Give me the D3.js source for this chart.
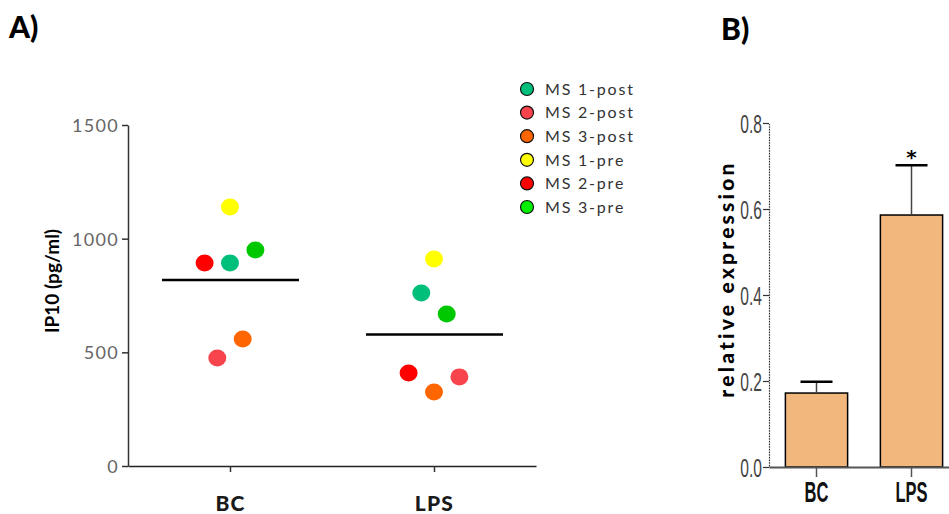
<!DOCTYPE html>
<html>
<head>
<meta charset="utf-8">
<script src="https://cdn.jsdelivr.net/npm/d3@7"></script>
<style>
  html, body { margin: 0; padding: 0; background: #fff; }
  svg { display: block; }
</style>
</head>
<body>
<svg id="chart" width="949" height="514"></svg>
<script>
// ---------- Data ----------
const categories = ["BC", "LPS"];
const seriesNames = ["MS 1-post", "MS 2-post", "MS 3-post", "MS 1-pre", "MS 2-pre", "MS 3-pre"];
const seriesColors = ["#00BF7A", "#F8444C", "#FF6600", "#FFFF00", "#FF0000", "#00C800"];
const legendColors = ["#00BF7A", "#F8444C", "#FF6600", "#FFFF00", "#FF0000", "#00F000"];
const bcValues = [893, 475, 559, 1139, 893, 950];
const lpsValues = [761, 392, 326, 911, 409, 669];
const bcJitter = [0, -1, 1, 0, -2, 2];
const lpsJitter = [-1, 2, 0, 0, -2, 1];
const ipTicks = [0, 500, 1000, 1500];

const barValues = [0.172, 0.586];
const barErrors = [0.026, 0.116];
const barSignif = ["", "*"];
const exprTicks = [0.0, 0.2, 0.4, 0.6, 0.8];

// ---------- Setup ----------
const svg = d3.select("#chart");
const gothic = "Lato, 'Open Sans', sans-serif";
const narrow = "'Liberation Sans', Arial, sans-serif";

// Panel labels
svg.append("text").attr("x", 9).attr("y", 38).text("A)")
  .attr("font-family", gothic).attr("font-weight", 900).attr("font-size", 30).attr("fill", "#000");
svg.append("text").attr("x", 721).attr("y", 40).text("B)")
  .attr("font-family", gothic).attr("font-weight", 900).attr("font-size", 30).attr("fill", "#000");

// ---------- Panel A ----------
const yA = d3.scaleLinear().domain([0, 1500]).range([466, 125]);
const xA = d3.scalePoint().domain(categories).range([128, 536]).padding(0.5);
const jitter = d3.scaleLinear().domain([-1, 1]).range([-12.7, 12.7]);

const gA = svg.append("g");
const yAxisA = d3.axisLeft(yA).tickValues(ipTicks).tickSize(6).tickSizeOuter(0).tickFormat(d3.format("d"));
const yAG = gA.append("g").attr("transform", "translate(128,0)").call(yAxisA);
yAG.select(".domain").attr("stroke", "#333").attr("stroke-width", 1.5);
yAG.selectAll(".tick line").attr("stroke", "#333").attr("stroke-width", 1.5);
yAG.selectAll(".tick text").attr("font-family", gothic).attr("font-size", 18).attr("letter-spacing", 1.3)
  .attr("fill", "#666").attr("x", -9).attr("dy", "0.36em");

const xAxisA = d3.axisBottom(xA).tickSize(6).tickSizeOuter(0);
const xAG = gA.append("g").attr("transform", "translate(0,466)").call(xAxisA);
xAG.select(".domain").attr("stroke", "#222").attr("stroke-width", 1.5);
xAG.selectAll(".tick line").attr("stroke", "#333").attr("stroke-width", 1.5);
xAG.selectAll(".tick text").attr("font-family", gothic).attr("font-weight", 900).attr("font-size", 21)
  .attr("letter-spacing", 1.2).attr("fill", "#1a1a1a").attr("y", 45).attr("dy", 0);

// y label A
gA.append("text").attr("transform", "translate(59,281) rotate(-90)").attr("text-anchor", "middle")
  .attr("font-family", gothic).attr("font-weight", 700).attr("font-size", 19).attr("fill", "#000")
  .text("IP10 (pg/ml)");

// points
const groups = [
  { cat: "BC", values: bcValues, jit: bcJitter },
  { cat: "LPS", values: lpsValues, jit: lpsJitter }
];
groups.forEach(g => {
  const m = d3.mean(g.values);
  gA.append("line")
    .attr("x1", xA(g.cat) - 68).attr("x2", xA(g.cat) + 69)
    .attr("y1", yA(m)).attr("y2", yA(m))
    .attr("stroke", "#000").attr("stroke-width", 2.5);
  gA.selectAll(null).data(g.values.map((v, i) => ({ v, i, j: g.jit[i] })))
    .enter().append("ellipse")
    .attr("cx", d => xA(g.cat) + jitter(d.j))
    .attr("cy", d => yA(d.v))
    .attr("rx", 9).attr("ry", 8.5)
    .attr("fill", d => seriesColors[d.i]);
});

// legend
const leg = svg.append("g").attr("transform", "translate(527,89)");
const li = leg.selectAll("g").data(seriesNames).enter().append("g")
  .attr("transform", (d, i) => `translate(0,${i * 23.6})`);
li.append("circle").attr("r", 6.5).attr("fill", (d, i) => legendColors[i])
  .attr("stroke", "#111").attr("stroke-width", 1.2);
li.append("text").attr("x", 18).attr("dy", "0.36em").text(d => d)
  .attr("font-family", gothic).attr("font-size", 16).attr("letter-spacing", 1.8).attr("fill", "#333");

// ---------- Panel B ----------
const yB = d3.scaleLinear().domain([0, 0.8]).range([467, 123]);
const xB = d3.scaleBand().domain(categories).range([769, 959]).paddingInner(0.345).paddingOuter(0.1725);

const gB = svg.append("g");
const yAxisB = d3.axisLeft(yB).tickValues(exprTicks).tickSize(6).tickSizeOuter(0).tickFormat(d3.format(".1f"));
const yBG = gB.append("g").attr("transform", "translate(769,0)").call(yAxisB);
yBG.select(".domain").attr("stroke", "#333").attr("stroke-width", 1.2).attr("stroke-dasharray", "1,0.6");
yBG.selectAll(".tick line").attr("stroke", "#333").attr("stroke-width", 1.2);
const condB = 0.6;
yBG.selectAll(".tick text").attr("font-family", narrow).attr("font-size", 26).attr("fill", "#444")
  .attr("transform", `scale(${condB},1)`).attr("x", -7 / condB).attr("dy", "0.36em");

// bars
gB.selectAll(".bar").data(categories).enter().append("rect")
  .attr("x", d => xB(d)).attr("width", xB.bandwidth())
  .attr("y", (d, i) => yB(barValues[i])).attr("height", (d, i) => yB(0) - yB(barValues[i]))
  .attr("fill", "#F1B77D").attr("stroke", "#000").attr("stroke-width", 1.5);

// error bars
categories.forEach((c, i) => {
  const cx = xB(c) + xB.bandwidth() / 2;
  const top = yB(barValues[i] + barErrors[i]);
  gB.append("line").attr("x1", cx).attr("x2", cx).attr("y1", yB(barValues[i])).attr("y2", top)
    .attr("stroke", "#444").attr("stroke-width", 1.5);
  gB.append("line").attr("x1", cx - 16).attr("x2", cx + 16).attr("y1", top).attr("y2", top)
    .attr("stroke", "#000").attr("stroke-width", 2.5);
  if (barSignif[i]) {
    gB.append("text").attr("x", cx).attr("y", top - 1).attr("text-anchor", "middle")
      .attr("font-family", "'DejaVu Sans', sans-serif").attr("font-weight", 700).attr("font-size", 20).attr("fill", "#000")
      .text(barSignif[i]);
  }
});

const xAxisB = d3.axisBottom(xB).tickSize(10).tickSizeOuter(0);
const xBG = gB.append("g").attr("transform", "translate(0,467)").call(xAxisB);
xBG.select(".domain").attr("stroke", "#555").attr("stroke-width", 2);
xBG.selectAll(".tick line").attr("stroke", "#555").attr("stroke-width", 1.5);
const condX = 0.55;
xBG.selectAll(".tick text").attr("font-family", narrow).attr("font-weight", 700).attr("font-size", 30)
  .attr("fill", "#111").attr("transform", `scale(${condX},1)`).attr("y", 35).attr("dy", 0);

// y label B
gB.append("text").attr("transform", "translate(734,279) rotate(-90)").attr("text-anchor", "middle")
  .attr("font-family", gothic).attr("font-weight", 900).attr("font-size", 21).attr("letter-spacing", 3.2)
  .attr("fill", "#000").text("relative expression");
</script>
</body>
</html>
